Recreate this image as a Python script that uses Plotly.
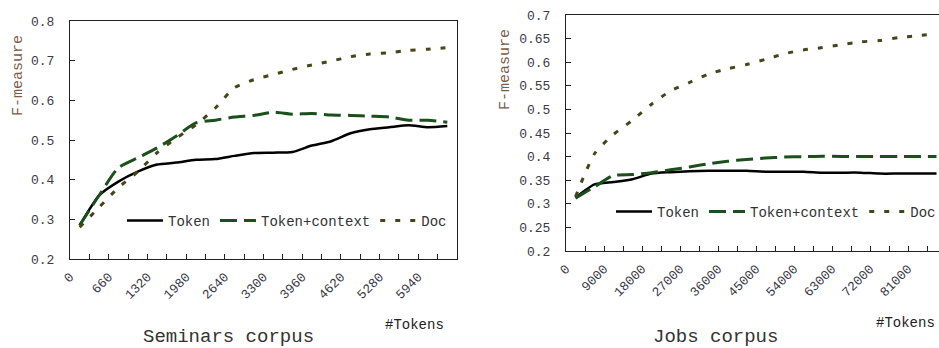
import plotly.graph_objects as go

W, H = 939, 348

# ---------------- data ----------------
sem_x = [165, 495, 825, 1155, 1485, 1815, 2145, 2475, 2805, 3135,
         3465, 3795, 4125, 4455, 4785, 5115, 5445, 5775, 6105, 6435]
sem_token = [0.285, 0.36, 0.395, 0.42, 0.438, 0.443, 0.45, 0.452, 0.46, 0.467,
             0.468, 0.47, 0.486, 0.497, 0.517, 0.527, 0.532, 0.537, 0.532, 0.535]
sem_token_ctx = [0.285, 0.36, 0.43, 0.455, 0.48, 0.51, 0.543, 0.55, 0.558, 0.562,
                 0.57, 0.565, 0.567, 0.563, 0.562, 0.56, 0.558, 0.55, 0.55, 0.545]
sem_doc = [0.28, 0.33, 0.38, 0.42, 0.468, 0.505, 0.538, 0.58, 0.632, 0.652,
           0.665, 0.678, 0.689, 0.699, 0.71, 0.717, 0.72, 0.726, 0.729, 0.733]
sem_tickvals = [0, 660, 1320, 1980, 2640, 3300, 3960, 4620, 5280, 5940]
sem_ticktext = ["0", "660", "1320", "1980", "2640", "3300", "3960", "4620", "5280", "5940"]
sem_ytickvals = [0.2, 0.3, 0.4, 0.5, 0.6, 0.7, 0.8]
sem_yticktext = ["0.2", "0.3", "0.4", "0.5", "0.6", "0.7", "0.8"]

jobs_x = [2250, 6750, 11250, 15750, 20250, 24750, 29250, 33750, 38250, 42750,
          47250, 51750, 56250, 60750, 65250, 69750, 74250, 78750, 83250, 87750]
jobs_token = [0.313, 0.341, 0.346, 0.352, 0.364, 0.367, 0.369, 0.37, 0.37, 0.37,
              0.368, 0.368, 0.368, 0.366, 0.366, 0.366, 0.364, 0.364, 0.364, 0.364]
jobs_token_ctx = [0.312, 0.336, 0.36, 0.362, 0.366, 0.372, 0.378, 0.385, 0.39, 0.394,
                  0.397, 0.399, 0.4, 0.401, 0.4, 0.4, 0.4, 0.4, 0.4, 0.4]
jobs_doc = [0.315, 0.406, 0.447, 0.477, 0.511, 0.539, 0.557, 0.575, 0.586, 0.595,
            0.606, 0.618, 0.626, 0.631, 0.637, 0.643, 0.646, 0.652, 0.656, 0.66]
jobs_tickvals = [0, 9000, 18000, 27000, 36000, 45000, 54000, 63000, 72000, 81000]
jobs_ticktext = ["0", "9000", "18000", "27000", "36000", "45000", "54000",
                 "63000", "72000", "81000"]
jobs_ytickvals = [0.2, 0.25, 0.3, 0.35, 0.4, 0.45, 0.5, 0.55, 0.6, 0.65, 0.7]
jobs_yticktext = ["0.2", "0.25", "0.3", "0.35", "0.4", "0.45", "0.5", "0.55",
                  "0.6", "0.65", "0.7"]

series_names = ["Token", "Token+context", "Doc"]

# ---------------- style ----------------
FONT = "Liberation Mono"
TICKC = "#3a3a48"
FRAME = "#222222"
styles = [
    dict(color="#000000", width=2.5, dash="solid"),
    dict(color="#1b4f1b", width=3, dash="17px,7px"),
    dict(color="#45451a", width=3, dash="5px,10px"),
]


def px_x(p):
    return p / W


def px_y(p):
    return 1 - p / H


fig = go.Figure()

for name, ys, st in zip(series_names, [sem_token, sem_token_ctx, sem_doc], styles):
    fig.add_trace(go.Scatter(x=sem_x, y=ys, name=name, mode="lines",
                             line=dict(shape="spline", smoothing=0.6, **st),
                             xaxis="x", yaxis="y", legend="legend"))
for name, ys, st in zip(series_names, [jobs_token, jobs_token_ctx, jobs_doc], styles):
    fig.add_trace(go.Scatter(x=jobs_x, y=ys, name=name, mode="lines",
                             line=dict(shape="spline", smoothing=0.6, **st),
                             xaxis="x2", yaxis="y2", legend="legend2"))

axis_common = dict(showgrid=False, zeroline=False, showline=True, linecolor=FRAME,
                   linewidth=1, ticks="inside", ticklen=5, tickcolor=FRAME,
                   automargin=False,
                   tickfont=dict(family=FONT, size=13, color=TICKC))

jobs_right_px = 946  # true right edge of the Jobs plot area (clipped by the image)
jobs_range_max = 90000 * (W - 566) / (jobs_right_px - 566)

legend_common = dict(orientation="h", xanchor="left", yanchor="middle",
                     bgcolor="white", borderwidth=0, itemwidth=36, tracegroupgap=0,
                     font=dict(family=FONT, size=14, color="#333333"))

fig.update_layout(
    width=W, height=H,
    margin=dict(l=0, r=0, t=0, b=0, pad=0, autoexpand=False),
    paper_bgcolor="white", plot_bgcolor="white",
    xaxis=dict(domain=[px_x(70), px_x(457)], range=[0, 6600], anchor="y",
               tickvals=sem_tickvals, ticktext=sem_ticktext, tickangle=-45, mirror=True,
               ticklabelstandoff=4,
               minor=dict(dtick=330, tick0=0, ticks="inside", ticklen=5, tickcolor=FRAME),
               **axis_common),
    yaxis=dict(domain=[px_y(259), px_y(21)], range=[0.2, 0.8], anchor="x",
               tickvals=sem_ytickvals, ticktext=sem_yticktext, mirror=True,
               ticklabelstandoff=12, **axis_common),
    xaxis2=dict(domain=[px_x(566), 1], range=[0, jobs_range_max], anchor="y2",
                tickvals=jobs_tickvals, ticktext=jobs_ticktext, tickangle=-45, mirror=True,
                ticklabelstandoff=4,
                minor=dict(dtick=4500, tick0=0, ticks="inside", ticklen=5, tickcolor=FRAME),
                **axis_common),
    yaxis2=dict(domain=[px_y(251), px_y(15)], range=[0.2, 0.7], anchor="x2",
                tickvals=jobs_ytickvals, ticktext=jobs_yticktext, mirror=False,
                ticklabelstandoff=12, **axis_common),
    legend=dict(x=px_x(122), y=px_y(221), **legend_common),
    legend2=dict(x=px_x(611), y=px_y(212), **legend_common),
    showlegend=True,
)

ytitle_font = dict(family=FONT, size=15, color="#7a5c45")
ann_font_big = dict(family=FONT, size=19, color="#333333")
ann_font_small = dict(family=FONT, size=14, color="#222222")
fig.add_annotation(text="F-measure", x=px_x(18), y=px_y(76), xref="paper", yref="paper",
                   textangle=-90, showarrow=False, font=ytitle_font,
                   xanchor="center", yanchor="middle")
fig.add_annotation(text="F-measure", x=px_x(505), y=px_y(70), xref="paper", yref="paper",
                   textangle=-90, showarrow=False, font=ytitle_font,
                   xanchor="center", yanchor="middle")
fig.add_annotation(text="Seminars corpus", x=px_x(228), y=px_y(337), xref="paper", yref="paper",
                   showarrow=False, font=ann_font_big, xanchor="center", yanchor="middle")
fig.add_annotation(text="Jobs corpus", x=px_x(715), y=px_y(337), xref="paper", yref="paper",
                   showarrow=False, font=ann_font_big, xanchor="center", yanchor="middle")
fig.add_annotation(text="#Tokens", x=px_x(414), y=px_y(325), xref="paper", yref="paper",
                   showarrow=False, font=ann_font_small, xanchor="center", yanchor="middle")
fig.add_annotation(text="#Tokens", x=px_x(905), y=px_y(323), xref="paper", yref="paper",
                   showarrow=False, font=ann_font_small, xanchor="center", yanchor="middle")

fig.write_html("out.html",
               config={"displayModeBar": False},
               post_script="document.body.style.margin='0';document.body.style.overflow='hidden';")
